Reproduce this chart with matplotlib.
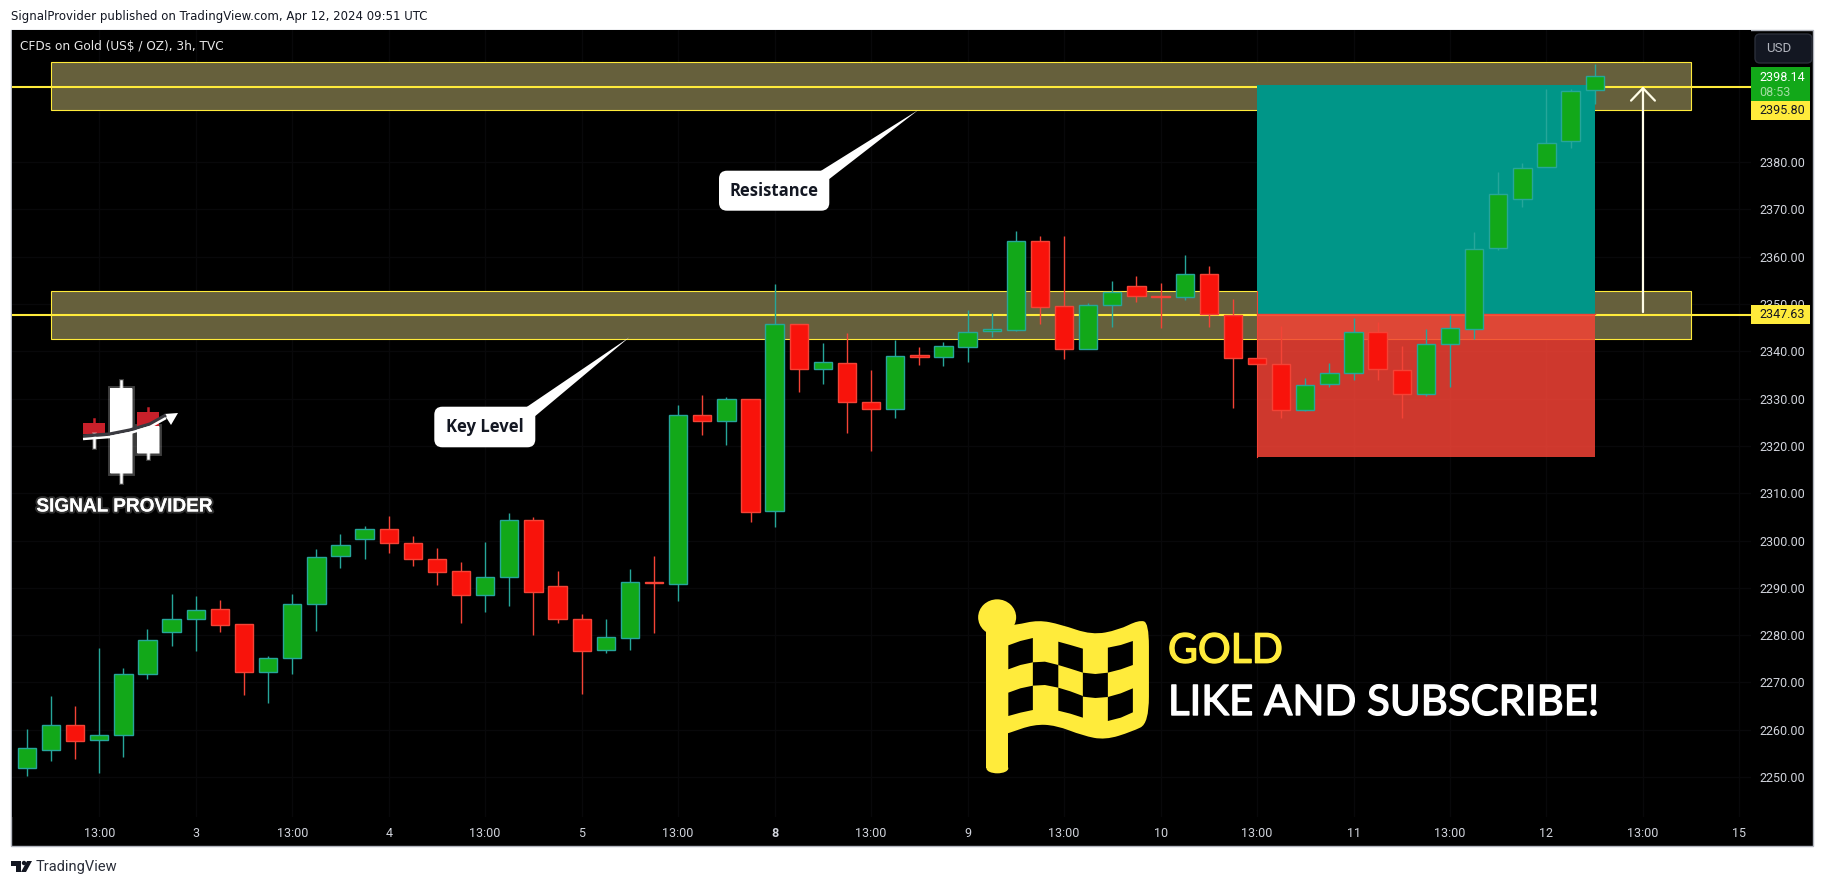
import matplotlib
matplotlib.use('Agg')
import matplotlib.pyplot as plt
import matplotlib.patheffects as pe
from matplotlib.patches import Rectangle, Polygon, FancyBboxPatch, Circle, Ellipse, PathPatch
from matplotlib.path import Path

W, H = 1825, 886

# candles, 3h bars
highs = [2260.2, 2267.1, 2265.0, 2277.3, 2273.1, 2281.3, 2288.7, 2288.3, 2287.4, 2282.4, 2275.6,
         2288.7, 2298.2, 2301.3, 2303.1, 2305.2, 2301.0, 2298.4, 2295.4, 2299.6, 2305.8, 2305.0,
         2293.6, 2284.4, 2283.4, 2294.0, 2296.7, 2328.7, 2330.8, 2330.4, 2329.9, 2354.2, 2345.7,
         2341.7, 2343.8, 2336.1, 2342.4, 2340.9, 2342.0, 2348.7, 2348.2, 2365.4, 2364.4, 2364.4,
         2350.2, 2354.9, 2355.9, 2354.5, 2360.4, 2358.1, 2351.1, 2338.5, 2345.4, 2334.4, 2337.5,
         2347.0, 2346.3, 2341.2, 2344.7, 2347.7, 2365.3, 2377.9, 2379.8, 2395.5, 2395.4, 2400.8]
lows = [2250.3, 2253.3, 2253.7, 2250.9, 2254.2, 2270.8, 2277.7, 2276.7, 2280.7, 2267.4, 2265.7,
        2271.8, 2280.9, 2294.2, 2296.1, 2297.4, 2294.7, 2290.6, 2282.6, 2284.9, 2286.2, 2280.0,
        2282.6, 2267.6, 2276.2, 2276.8, 2280.5, 2287.2, 2322.3, 2320.2, 2304.0, 2302.9, 2331.5,
        2333.2, 2322.8, 2319.0, 2325.9, 2337.1, 2336.8, 2337.8, 2343.1, 2344.3, 2345.8, 2338.4,
        2340.4, 2345.2, 2350.5, 2345.0, 2350.9, 2345.2, 2328.1, 2337.3, 2326.0, 2327.3, 2332.4,
        2334.0, 2334.0, 2326.0, 2330.6, 2332.5, 2342.6, 2361.4, 2370.6, 2378.9, 2382.9, 2392.2]
opens = [2251.8, 2255.8, 2260.9, 2257.9, 2258.8, 2271.7, 2280.7, 2283.5, 2285.5, 2282.3, 2272.3,
         2275.1, 2286.5, 2296.7, 2300.4, 2302.4, 2299.4, 2296.0, 2293.5, 2288.4, 2292.2, 2304.3,
         2290.3, 2283.4, 2276.9, 2279.3, 2291.3, 2290.9, 2326.5, 2325.3, 2329.9, 2306.3, 2345.7,
         2336.3, 2337.5, 2329.2, 2327.9, 2339.2, 2338.7, 2341.0, 2344.2, 2344.6, 2363.3, 2349.5,
         2340.4, 2349.7, 2353.8, 2351.8, 2351.4, 2356.3, 2347.6, 2338.5, 2337.3, 2327.5, 2333.0,
         2335.4, 2344.0, 2336.0, 2330.9, 2341.5, 2344.7, 2361.8, 2372.2, 2378.9, 2384.4, 2395.2]
closes = [2256.1, 2260.9, 2257.7, 2258.8, 2271.7, 2278.9, 2283.4, 2285.3, 2282.2, 2272.1, 2275.1,
          2286.5, 2296.5, 2299.0, 2302.4, 2299.4, 2296.0, 2293.4, 2288.4, 2292.2, 2304.3, 2289.2,
          2283.3, 2276.7, 2279.5, 2291.2, 2291.1, 2326.5, 2325.3, 2329.9, 2306.1, 2345.7, 2336.3,
          2337.7, 2329.2, 2327.9, 2339.0, 2338.9, 2341.1, 2344.0, 2344.7, 2363.3, 2349.4, 2340.4,
          2349.7, 2352.5, 2351.8, 2351.5, 2356.3, 2347.8, 2338.5, 2337.3, 2327.5, 2332.8, 2335.4,
          2344.0, 2336.2, 2330.9, 2341.5, 2344.9, 2361.6, 2373.2, 2378.7, 2384.1, 2395.1, 2398.2]

price_ticks = list(range(2250, 2381, 10))
time_ticks = [3, 7, 11, 15, 19, 23, 27, 31, 35, 39, 43, 47, 51, 55, 59, 63, 67, 71]
time_labels = ['13:00', '3', '13:00', '4', '13:00', '5', '13:00', '8', '13:00', '9', '13:00', '10',
               '13:00', '11', '13:00', '12', '13:00', '15']

resistance_zone = (2391.0, 2401.1)
key_zone = (2342.6, 2352.7)
resistance_level = 2395.8
key_level = 2347.63
zone_bars = (1, 69)
trade_bars = (51, 65)
trade_target = 2396.3
trade_entry = 2348.0
trade_stop = 2317.6
arrow_bar = 67
arrow_from, arrow_to = 2348.3, 2396.0

GREEN, RED = '#12A819', '#F8130B'
TEAL_EDGE, RED_EDGE = '#26A69A', '#F44336'
YELLOW = '#FFEB3B'
OLIVE = '#66603C'

fig = plt.figure(figsize=(W / 100, H / 100), dpi=100, facecolor='white')
fig.add_artist(Rectangle((11 / W, 1 - 846 / H), (1813 - 11) / W, (846 - 30) / H, transform=fig.transFigure,
                         facecolor='black', edgecolor='#B2B5BE', lw=1, zorder=-1))

ax = fig.add_axes([11.5 / W, 1 - 816.7 / H, (1750.8 - 11.5) / W, (816.7 - 30) / H], facecolor='black')
ax.set_xlim(-0.638, 71.47)
ax.set_ylim(2241.6, 2407.95)
for s in ax.spines.values():
    s.set_visible(False)

ax.grid(True, color='#08080a', lw=1)
ax.set_axisbelow(True)
ax.yaxis.tick_right()
ax.set_yticks(price_ticks)
ax.set_yticklabels(['%.2f' % p for p in price_ticks], fontfamily='Roboto', fontsize=9, color='#D1D4DC',
                   va='center_baseline')
ax.set_xticks(time_ticks)
ax.set_xticklabels(time_labels, fontfamily='Roboto', fontsize=9, color='#D1D4DC')
ax.tick_params(axis='both', length=0)
ax.tick_params(axis='y', pad=6.3)
ax.tick_params(axis='x', pad=7.3)
ax.get_xticklabels()[7].set_fontweight('bold')

# zones and levels
for lo, hi in (resistance_zone, key_zone):
    ax.add_patch(Rectangle((zone_bars[0], lo), zone_bars[1] - zone_bars[0], hi - lo,
                           facecolor=OLIVE, edgecolor=YELLOW, lw=0.8, zorder=1))
for lv in (resistance_level, key_level):
    ax.axhline(lv, color=YELLOW, lw=1.5, zorder=2)

# long position tool
ax.add_patch(Rectangle((trade_bars[0], trade_entry), trade_bars[1] - trade_bars[0], trade_target - trade_entry,
                       facecolor='#009688', edgecolor='none', zorder=3))
ax.add_patch(Rectangle((trade_bars[0], trade_stop), trade_bars[1] - trade_bars[0], trade_entry - trade_stop,
                       facecolor='#F44336', alpha=0.85, edgecolor='none', zorder=3))
ax.plot(trade_bars, [trade_entry, trade_entry], color='#F44336', lw=1, zorder=3)
ax.plot([trade_bars[0], trade_bars[0]], [trade_stop, key_zone[1]], color='#F44336', lw=0.8, zorder=3)

# candles
xs = list(range(len(opens)))
up = [c >= o for o, c in zip(opens, closes)]
ax.vlines(xs, lows, highs, colors=[TEAL_EDGE if u else RED_EDGE for u in up], lw=1, zorder=4)
ax.bar(xs, [max(abs(c - o), 0.1) for o, c in zip(opens, closes)], bottom=[min(o, c) for o, c in zip(opens, closes)],
       width=0.76, color=[GREEN if u else RED for u in up],
       edgecolor=[TEAL_EDGE if u else RED_EDGE for u in up], lw=1, zorder=5)

# measure arrow
ax.annotate('', xy=(arrow_bar, arrow_to), xytext=(arrow_bar, arrow_from), zorder=6,
            arrowprops=dict(arrowstyle='->,head_length=0.9,head_width=0.86', color='#FFFDE7', lw=1.6,
                            shrinkA=0, shrinkB=0))

# everything else sits on an overlay in pixel coordinates
ov = fig.add_axes([0, 0, 1, 1], zorder=5)
ov.set_xlim(0, W)
ov.set_ylim(H, 0)
ov.axis('off')

ov.text(11.5, 16.5, 'SignalProvider published on TradingView.com, Apr 12, 2024 09:51 UTC', fontsize=8.5,
        fontfamily='DejaVu Sans', color='#131722', va='center', parse_math=False)
ov.text(20.5, 46.5, 'CFDs on Gold (US$ / OZ), 3h, TVC', fontsize=8.7, fontfamily='DejaVu Sans', color='#E8E8E8',
        va='center', parse_math=False)

# price scale widgets
ov.add_patch(FancyBboxPatch((1758, 37), 51, 23, boxstyle='round,pad=3,rounding_size=5', facecolor='#131722',
                            edgecolor='#2A2E39', lw=1))
ov.text(1765.7, 48.5, 'USD', fontsize=9.5, fontfamily='Roboto', color='#B2B5BE', va='center')
ov.add_patch(Rectangle((1751, 67.3), 59, 33.7, facecolor=GREEN, edgecolor='none'))
ov.add_patch(Rectangle((1751, 101), 59, 19, facecolor=YELLOW, edgecolor='none'))
ov.add_patch(Rectangle((1751, 305), 59, 19, facecolor=YELLOW, edgecolor='none'))
ov.text(1759.6, 77, '2398.14', fontsize=9, fontfamily='Roboto', color='white', va='center')
ov.text(1759.6, 92, '08:53', fontsize=9, fontfamily='Roboto', color='#A5DDA5', va='center')
ov.text(1759.6, 110.5, '2395.80', fontsize=9, fontfamily='Roboto', color='#131722', va='center')
ov.text(1759.6, 315, '2347.63', fontsize=9, fontfamily='Roboto', color='#131722', va='center')


def bubble(x0, y0, x1, y1, tail, label):
    ov.add_patch(FancyBboxPatch((x0 + 8, y0 + 8), x1 - x0 - 16, y1 - y0 - 16, boxstyle='round,pad=8,rounding_size=8',
                                facecolor='white', edgecolor='none'))
    ov.add_patch(Polygon(tail, facecolor='white', edgecolor='none'))
    ov.text((x0 + x1) / 2, (y0 + y1) / 2, label, fontsize=12, fontweight='bold', fontfamily='Open Sans',
            color='#131722', ha='center', va='center')


bubble(719, 170.7, 829.3, 210.7, [(820.7, 171), (829.3, 179), (918.3, 110)], 'Resistance')
bubble(434.3, 406.7, 535.3, 447.3, [(526.7, 407), (535.3, 416), (629.3, 337.3)], 'Key Level')

# channel logo
soft = [pe.withStroke(linewidth=3.5, foreground='#ffffff40')]
ov.plot([121, 121], [381, 482], color='white', lw=1.8, path_effects=soft)
ov.plot([94, 94], [434, 447], color='white', lw=1.8, path_effects=soft)
ov.plot([148, 148], [426, 458], color='white', lw=1.8, path_effects=soft)
ov.plot([94, 94], [419, 423], color='#C8202A', lw=1.8)
ov.plot([148, 148], [408, 412], color='#C8202A', lw=1.8)
ov.add_patch(Rectangle((110, 388), 22, 85, facecolor='white', edgecolor='none', path_effects=soft))
ov.add_patch(Rectangle((137, 426), 22, 27, facecolor='white', edgecolor='none', path_effects=soft))
ov.add_patch(Rectangle((83, 423), 22, 11, facecolor='#C8202A', edgecolor='none'))
ov.add_patch(Rectangle((137, 412), 22, 14, facecolor='#C8202A', edgecolor='none'))
ov.plot([83, 110, 130, 150, 166], [436, 434, 430, 424, 415], color='#3A3A40', lw=2.4, solid_capstyle='butt')
ov.plot([83, 110, 130, 150, 166], [439, 437, 433, 427, 418], color='white', lw=1.8, solid_capstyle='butt')
ov.add_patch(Polygon([(178, 413), (164, 414), (171, 425)], facecolor='white', edgecolor='none'))
ov.text(124, 507, 'SIGNAL PROVIDER', fontsize=13.7, fontweight='bold', fontfamily='Liberation Sans', color='white',
        ha='center', va='center', path_effects=[pe.withStroke(linewidth=3, foreground='#ffffff30')])


# checkered flag, outlined in crop coordinates
def fx(x):
    return x / 2.24 + 940


def fy(y):
    return y / 3 + 570


def flag_pt(pts):
    return [(fx(x), fy(y)) for x, y in pts]


def smooth_patch(pts, **kw):
    # closed outline through the midpoints, with the listed points as control points
    verts, codes = [], []
    p = flag_pt(pts)
    n = len(p)
    mid = [((p[i][0] + p[(i + 1) % n][0]) / 2, (p[i][1] + p[(i + 1) % n][1]) / 2) for i in range(n)]
    verts.append(mid[-1])
    codes.append(Path.MOVETO)
    for i in range(n):
        verts += [p[i], mid[i]]
        codes += [Path.CURVE3, Path.CURVE3]
    return PathPatch(Path(verts, codes), **kw)


# only the cloth is smoothed, the pole is a plain bar
flag_outline = [(125, 300), (125, 170), (170, 165), (220, 150), (270, 163), (340, 195), (400, 180),
                (445, 150), (468, 158), (468, 300), (468, 460), (430, 485), (370, 510), (320, 497), (260, 466),
                (210, 463), (153, 490), (125, 500)]
ov.add_patch(smooth_patch(flag_outline, facecolor=YELLOW, edgecolor='none'))
ov.add_patch(Ellipse((fx(128), fy(142)), 38, 36, facecolor=YELLOW, edgecolor='none'))
ov.add_patch(Rectangle((fx(104), fy(170)), fx(153) - fx(104), fy(595) - fy(170), facecolor=YELLOW, edgecolor='none'))
ov.add_patch(Ellipse((fx(128.5), fy(595)), fx(153) - fx(104), 10, facecolor=YELLOW, edgecolor='none'))
flag_cells = [[(153, 226), (180, 213), (208, 204), (208, 277), (180, 285), (153, 298)],
              [(265, 215), (292, 225), (320, 236), (320, 308), (292, 296), (265, 285)],
              [(376, 233), (405, 225), (432, 213), (432, 285), (405, 298), (376, 308)],
              [(208, 277), (235, 275), (265, 285), (265, 353), (235, 345), (208, 347)],
              [(320, 308), (348, 312), (376, 308), (376, 381), (348, 384), (320, 380)],
              [(153, 368), (180, 355), (208, 347), (208, 420), (180, 428), (153, 438)],
              [(265, 353), (292, 364), (320, 378), (320, 443), (292, 431), (265, 422)],
              [(376, 381), (405, 370), (432, 355), (432, 427), (405, 443), (376, 453)]]
for cell in flag_cells:
    ov.add_patch(Polygon(flag_pt(cell), facecolor='black', edgecolor='none'))

ov.text(1168, 662.7, 'GOLD', fontsize=29.5, fontfamily='Lato', color=YELLOW, va='baseline',
        path_effects=[pe.withStroke(linewidth=1.0, foreground=YELLOW)])
ov.text(1168, 715, 'LIKE AND SUBSCRIBE!', fontsize=30.2, fontfamily='Lato', color='white', va='baseline',
        path_effects=[pe.withStroke(linewidth=1.0, foreground='white')])

# TradingView footer
tv_dark = '#131722'
ov.add_patch(Polygon([(11, 861), (21, 861), (21, 872), (16, 872), (16, 866), (11, 866)], facecolor=tv_dark))
ov.add_patch(Circle((24, 863), 2.2, facecolor=tv_dark))
ov.add_patch(Polygon([(27, 861), (32, 861), (26, 872), (21, 872)], facecolor=tv_dark))
ov.text(35.5, 867.5, 'TradingView', fontsize=10.5, fontfamily='Roboto', color='#2A2E39', va='center')

fig.savefig('out.png', dpi=100)
